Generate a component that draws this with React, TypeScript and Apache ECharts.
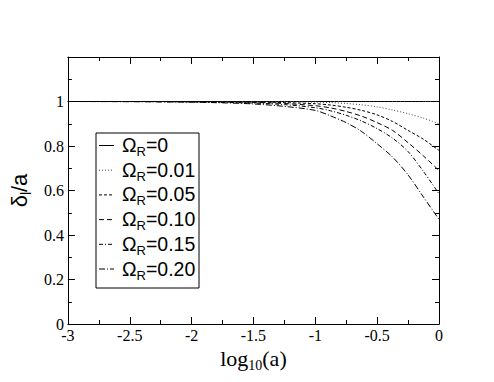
import React, { useEffect, useRef } from "react";
import * as echarts from "echarts";

const logA = [-3, -2.5, -2, -1.75, -1.5, -1.25, -1, -0.875, -0.75, -0.625, -0.5, -0.375, -0.25, -0.125, 0];
const omegaLabels = ["0", "0.01", "0.05", "0.10", "0.15", "0.20"];
const om0 = [1, 1, 1, 1, 1, 1, 1, 1, 1, 1, 1, 1, 1, 1, 1];
const om001 = [1, 1, 1, 1, 0.9995, 0.999, 0.997, 0.995, 0.991, 0.985, 0.976, 0.962, 0.945, 0.925, 0.9];
const om005 = [1, 1, 0.9995, 0.999, 0.998, 0.995, 0.99, 0.984, 0.974, 0.96, 0.94, 0.91, 0.87, 0.83, 0.78];
const om010 = [1, 1, 0.999, 0.998, 0.996, 0.991, 0.981, 0.971, 0.955, 0.934, 0.905, 0.87, 0.815, 0.755, 0.69];
const om015 = [1, 1, 0.998, 0.996, 0.993, 0.986, 0.972, 0.958, 0.938, 0.912, 0.878, 0.835, 0.775, 0.685, 0.585];
const om020 = [1, 0.999, 0.997, 0.994, 0.989, 0.978, 0.96, 0.935, 0.905, 0.865, 0.81, 0.75, 0.67, 0.57, 0.47];
const yTickLabels = ["0", "0.2", "0.4", "0.6", "0.8", "1"];
const xTickLabels = ["-3", "-2.5", "-2", "-1.5", "-1", "-0.5", "0"];

const seriesValues = [om0, om001, om005, om010, om015, om020];
const dashTypes: any[] = ["solid", [1, 2], [3, 2], [5, 3], [4, 2, 1, 2], [6, 2, 1, 2]];

export default function App() {
  const ref = useRef<HTMLDivElement>(null);
  useEffect(() => {
    if (!ref.current) return;
    const chart = echarts.init(ref.current, undefined, { renderer: "svg" });
    const serif = "'Liberation Serif', 'Times New Roman', serif";
    const sans = "'Liberation Sans', Arial, sans-serif";
    const names = omegaLabels.map((o) => "ΩR=" + o);
    const mkAxis = (extra: any) => ({
      type: "value",
      axisLine: { show: true, onZero: false, lineStyle: { color: "#000", width: 1 } },
      axisTick: { show: true, inside: true, length: 7, lineStyle: { color: "#000" } },
      minorTick: { show: true, splitNumber: 2, length: 4, lineStyle: { color: "#000" } },
      splitLine: { show: false },
      minorSplitLine: { show: false },
      ...extra,
    });

    const lgX = 96, lgY = 133, lgW = 103, lgH = 155;
    const rowGap = 24.7;
    const legendEls: any[] = [
      { type: "rect", shape: { x: lgX, y: lgY, width: lgW, height: lgH }, style: { fill: "#fff", stroke: "#000", lineWidth: 1 }, z: 10 },
    ];
    omegaLabels.forEach((o, i) => {
      const cy = 141 + i * rowGap;
      const dt = dashTypes[i];
      legendEls.push({
        type: "line",
        shape: { x1: 99, y1: cy + 4.5, x2: 114, y2: cy + 4.5 },
        style: { stroke: i === 1 ? "#444" : "#000", lineWidth: 1, lineDash: dt === "solid" ? null : dt },
        z: 11,
      });
      legendEls.push({
        type: "text",
        x: 122,
        y: cy + 4,
        z: 11,
        style: {
          text: `{a|Ω}{b|R}{a|=${o}}`,
          verticalAlign: "middle",
          align: "left",
          rich: {
            a: { fontFamily: sans, fontSize: 19.5, fill: "#000", lineHeight: 26 },
            b: { fontFamily: sans, fontSize: 13, fill: "#000", lineHeight: 12, verticalAlign: "bottom" },
          },
        },
      });
    });

    chart.setOption({
      animation: false,
      backgroundColor: "#fff",
      grid: { left: 57, right: 55, top: 57, bottom: 58 },
      graphic: legendEls,
      xAxis: [
        mkAxis({
          position: "bottom",
          min: -3,
          max: 0,
          interval: 0.5,
          axisLabel: {
            show: true,
            margin: 3,
            color: "#000",
            fontSize: 16,
            fontFamily: serif,
            formatter: (v: number) => {
              const i = Math.round((v + 3) / 0.5);
              return xTickLabels[i] ?? "";
            },
          },
          name: "{a|log}{b|10}{a|(a)}",
          nameLocation: "middle",
          nameGap: 20,
          nameTextStyle: {
            rich: {
              a: { fontFamily: serif, fontSize: 22, color: "#000", lineHeight: 28 },
              b: { fontFamily: serif, fontSize: 14, color: "#000", lineHeight: 14, verticalAlign: "bottom" },
            },
          },
        }),
        mkAxis({
          position: "top",
          min: -3,
          max: 0,
          interval: 0.5,
          axisLabel: { show: false },
        }),
      ],
      yAxis: [
        mkAxis({
          position: "left",
          min: 0,
          max: 1.2,
          interval: 0.2,
          axisLabel: {
            show: true,
            margin: 4,
            color: "#000",
            fontSize: 16,
            fontFamily: serif,
            formatter: (v: number) => {
              const i = Math.round(v / 0.2);
              return i < yTickLabels.length ? yTickLabels[i] : "";
            },
          },
          name: "{a|δ}{b|l}{a|/a}",
          nameLocation: "middle",
          nameRotate: 90,
          nameGap: 33,
          nameTextStyle: {
            rich: {
              a: { fontFamily: sans, fontSize: 22, color: "#000", lineHeight: 28 },
              b: { fontFamily: sans, fontSize: 14, color: "#000", lineHeight: 14, verticalAlign: "bottom" },
            },
          },
        }),
        mkAxis({
          position: "right",
          min: 0,
          max: 1.2,
          interval: 0.2,
          axisLabel: { show: false },
        }),
      ],
      series: seriesValues.map((vals, i) => ({
        name: names[i],
        type: "line",
        xAxisIndex: 0,
        yAxisIndex: 0,
        data: logA.map((x, j) => [x, vals[j]]),
        smooth: 0.3,
        symbol: "none",
        lineStyle: { color: i === 1 ? "#444" : "#000", width: 1, type: dashTypes[i] },
        itemStyle: { color: "#000" },
      })),
    });
    return () => chart.dispose();
  }, []);
  return <div ref={ref} style={{ width: 494, height: 382, position: "absolute", left: 0, top: 0 }} />;
}
